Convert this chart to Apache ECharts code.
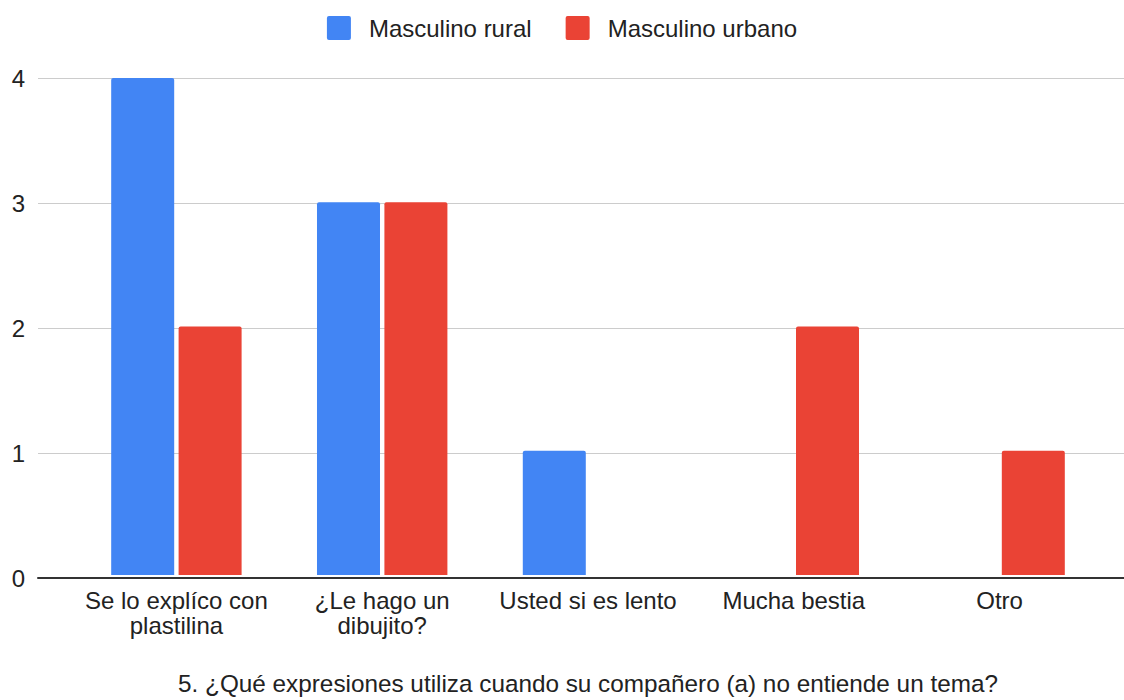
<!DOCTYPE html>
<html>
<head>
<meta charset="utf-8">
<script src="https://cdn.jsdelivr.net/npm/echarts@6/dist/echarts.min.js"></script>
<style>
  html, body { margin: 0; padding: 0; background: #fff; }
  #chart { width: 1124px; height: 700px; }
</style>
</head>
<body>
<div id="chart"></div>
<script>
const categories = [
  "Se lo explíco con\nplastilina",
  "¿Le hago un\ndibujito?",
  "Usted si es lento",
  "Mucha bestia",
  "Otro"
];
const seriesNames = ["Masculino rural", "Masculino urbano"];
const ruralValues = [4, 3, 1, 0, 0];
const urbanoValues = [2, 3, 0, 2, 1];
const axisTitle = "5. ¿Qué expresiones utiliza cuando su compañero (a) no entiende un tema?";

const chart = echarts.init(document.getElementById('chart'), null, { renderer: 'svg' });
const textColor = '#222';
const fontFamily = 'Liberation Sans, Arial, sans-serif';
const option = {
  animation: false,
  backgroundColor: '#fff',
  legend: {
    top: 11,
    left: 'center',
    itemWidth: 24,
    itemHeight: 24,
    itemGap: 34,
    icon: 'path://M2,0 L22,0 Q24,0 24,2 L24,22 Q24,24 22,24 L2,24 Q0,24 0,22 L0,2 Q0,0 2,0 Z',
    textStyle: { fontFamily: fontFamily, fontSize: 24, color: textColor, padding: [0, 0, 0, 13] },
    data: seriesNames
  },
  grid: [
    { left: 38, right: 0, top: 78, bottom: 122, containLabel: false },
    { left: 73.5, right: 21.5, top: 78, bottom: 122, containLabel: false }
  ],
  xAxis: [
    {
      type: 'category', gridIndex: 0, data: categories,
      axisLine: { show: true, lineStyle: { color: '#333', width: 2 } },
      axisTick: { show: false }, axisLabel: { show: false }, splitLine: { show: false }
    },
    {
      type: 'category', gridIndex: 1, data: categories,
      axisLine: { show: false }, axisTick: { show: false },
      axisLabel: { fontFamily: fontFamily, fontSize: 24, color: textColor, lineHeight: 25, margin: 13, interval: 0 },
      name: axisTitle, nameLocation: 'middle', nameGap: 96,
      nameTextStyle: { fontFamily: fontFamily, fontSize: 24.3, color: textColor }
    }
  ],
  yAxis: [
    {
      type: 'value', gridIndex: 0, min: 0, max: 4, interval: 1,
      axisLine: { show: false }, axisTick: { show: false },
      axisLabel: { fontFamily: fontFamily, fontSize: 24, color: textColor, margin: 13 },
      splitLine: { lineStyle: { color: '#cccccc', width: 1 } }
    },
    {
      type: 'value', gridIndex: 1, min: 0, max: 4, interval: 1, show: false,
      splitLine: { show: false }
    }
  ],
  series: [
    {
      name: seriesNames[0], type: 'bar', xAxisIndex: 1, yAxisIndex: 1,
      data: ruralValues, barWidth: 63, barGap: '7%',
      itemStyle: { color: '#4285F4', borderRadius: [2, 2, 0, 0] }
    },
    {
      name: seriesNames[1], type: 'bar', xAxisIndex: 1, yAxisIndex: 1,
      data: urbanoValues, barWidth: 63, barGap: '7%',
      itemStyle: { color: '#EA4335', borderRadius: [2, 2, 0, 0] }
    }
  ]
};
chart.setOption(option);
</script>
</body>
</html>
